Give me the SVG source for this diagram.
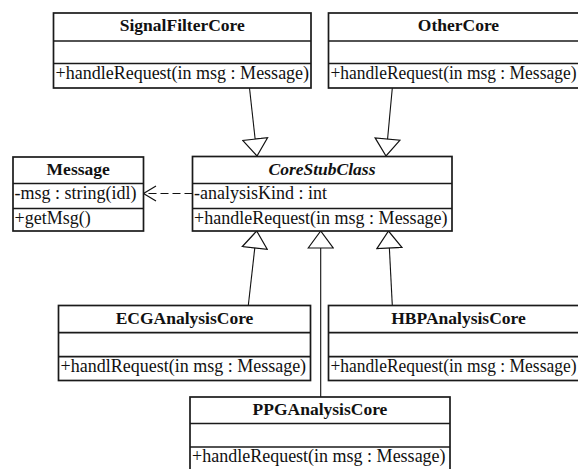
<svg xmlns="http://www.w3.org/2000/svg" width="578" height="469" viewBox="0 0 578 469">
<style>
.box{fill:#fff;stroke:#1a1a1a;stroke-width:1.7}
.div{stroke:#1a1a1a;stroke-width:1.7}
.hd{font-family:"Liberation Serif","Times New Roman","DejaVu Serif",serif;font-size:17.5px;font-weight:bold;text-anchor:middle;fill:#111}
.it{font-style:italic}
.tx{font-family:"Liberation Serif","Times New Roman","DejaVu Serif",serif;font-size:18px;fill:#111}
.con{stroke:#111;stroke-width:1.1;fill:none}
.dash{stroke-dasharray:8,4}
</style>
<defs>
<marker id="tri" markerUnits="userSpaceOnUse" viewBox="-1 -1 20 27" markerWidth="20" markerHeight="27" refX="17" refY="12.5" orient="auto">
<path d="M0,0 L17,12.5 L0,25 Z" fill="#fff" stroke="#111" stroke-width="1.2"/>
</marker>
<marker id="open" markerUnits="userSpaceOnUse" viewBox="-1 -1 15 18" markerWidth="15" markerHeight="18" refX="12.5" refY="7.5" orient="auto">
<path d="M0,0 L12.5,7.5 L0,15" fill="none" stroke="#111" stroke-width="1.2" stroke-dasharray="none"/>
</marker>
</defs>

<g id="connectors">
<line class="con" x1="249.5" y1="88" x2="257" y2="156" marker-end="url(#tri)"/>
<line class="con" x1="392.3" y1="88" x2="386" y2="156" marker-end="url(#tri)"/>
<line class="con" x1="248.3" y1="305.5" x2="256.7" y2="231" marker-end="url(#tri)"/>
<line class="con" x1="320.7" y1="397" x2="320.7" y2="231" marker-end="url(#tri)"/>
<line class="con" x1="392.3" y1="305.5" x2="388.5" y2="231" marker-end="url(#tri)"/>
<line class="con dash" x1="192.5" y1="193.5" x2="143.5" y2="193.5" marker-end="url(#open)"/>
</g>

<g id="SignalFilterCore">
<rect class="box" x="53.5" y="13" width="257.5" height="75"/>
<line class="div" x1="53.5" y1="41" x2="311" y2="41"/>
<line class="div" x1="53.5" y1="63.5" x2="311" y2="63.5"/>
<text class="hd" x="182.3" y="31">SignalFilterCore</text>
<text class="tx" x="55.5" y="78.5">+handleRequest(in msg : Message)</text>
</g>

<g id="OtherCore">
<rect class="box" x="328.5" y="13" width="260" height="75"/>
<line class="div" x1="328.5" y1="41" x2="588.5" y2="41"/>
<line class="div" x1="328.5" y1="63.5" x2="588.5" y2="63.5"/>
<text class="hd" x="458.5" y="31">OtherCore</text>
<text class="tx" x="330.5" y="78.5" textLength="246" lengthAdjust="spacingAndGlyphs">+handleRequest(in msg : Message)</text>
</g>

<g id="Message">
<rect class="box" x="13" y="157" width="130.5" height="74"/>
<line class="div" x1="13" y1="183.5" x2="143.5" y2="183.5"/>
<line class="div" x1="13" y1="208.5" x2="143.5" y2="208.5"/>
<text class="hd" x="78.2" y="175">Message</text>
<text class="tx" x="14.5" y="198.5">-msg : string(idl)</text>
<text class="tx" x="14.5" y="223.5">+getMsg()</text>
</g>

<g id="CoreStubClass">
<rect class="box" x="192.5" y="156.5" width="259.5" height="74.5"/>
<line class="div" x1="192.5" y1="183.5" x2="452" y2="183.5"/>
<line class="div" x1="192.5" y1="208.5" x2="452" y2="208.5"/>
<text class="hd it" x="322" y="175">CoreStubClass</text>
<text class="tx" x="194" y="198.5">-analysisKind : int</text>
<text class="tx" x="194" y="223.5">+handleRequest(in msg : Message)</text>
</g>

<g id="ECGAnalysisCore">
<rect class="box" x="58.5" y="305.5" width="252" height="75"/>
<line class="div" x1="58.5" y1="332.7" x2="310.5" y2="332.7"/>
<line class="div" x1="58.5" y1="356.7" x2="310.5" y2="356.7"/>
<text class="hd" x="184.5" y="323.5">ECGAnalysisCore</text>
<text class="tx" x="60.5" y="371.7">+handlRequest(in msg : Message)</text>
</g>

<g id="HBPAnalysisCore">
<rect class="box" x="328.5" y="305.5" width="260" height="75"/>
<line class="div" x1="328.5" y1="332.7" x2="588.5" y2="332.7"/>
<line class="div" x1="328.5" y1="356.7" x2="588.5" y2="356.7"/>
<text class="hd" x="458.5" y="323.5">HBPAnalysisCore</text>
<text class="tx" x="330.5" y="371.7" textLength="246" lengthAdjust="spacingAndGlyphs">+handleRequest(in msg : Message)</text>
</g>

<g id="PPGAnalysisCore">
<rect class="box" x="190" y="397" width="260" height="76"/>
<line class="div" x1="190" y1="423.5" x2="450" y2="423.5"/>
<line class="div" x1="190" y1="447" x2="450" y2="447"/>
<text class="hd" x="320" y="415">PPGAnalysisCore</text>
<text class="tx" x="192" y="462">+handleRequest(in msg : Message)</text>
</g>
</svg>
